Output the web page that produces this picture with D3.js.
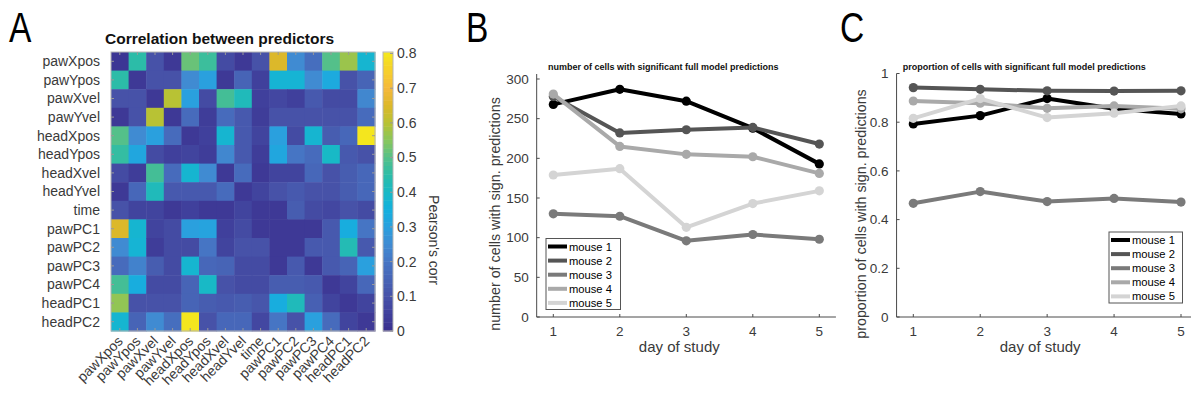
<!DOCTYPE html>
<html><head><meta charset="utf-8">
<script src="https://cdn.jsdelivr.net/npm/d3@7"></script>
<style>
body{margin:0;background:#fff}
svg{display:block}
text{font-family:"Liberation Sans",Arial,Helvetica,sans-serif}
</style>
</head><body>
<svg id="c" width="1191" height="398"></svg>
<script>
// ---------------- DATA ----------------
const predictors = ["pawXpos","pawYpos","pawXvel","pawYvel","headXpos","headYpos","headXvel","headYvel","time","pawPC1","pawPC2","pawPC3","pawPC4","headPC1","headPC2"];
const corrMatrix = [
  [0.02,0.45,0.10,0.03,0.52,0.47,0.08,0.03,0.10,0.65,0.25,0.18,0.50,0.57,0.38],
  [0.45,0.03,0.10,0.10,0.25,0.30,0.03,0.15,0.05,0.37,0.37,0.25,0.33,0.10,0.15],
  [0.10,0.10,0.03,0.60,0.30,0.08,0.48,0.42,0.05,0.07,0.05,0.12,0.08,0.08,0.24],
  [0.03,0.10,0.60,0.03,0.17,0.04,0.17,0.12,0.04,0.10,0.10,0.10,0.10,0.10,0.17],
  [0.50,0.25,0.30,0.17,0.03,0.05,0.38,0.12,0.06,0.30,0.08,0.38,0.13,0.16,0.80],
  [0.46,0.32,0.08,0.05,0.06,0.04,0.24,0.12,0.04,0.32,0.20,0.17,0.40,0.12,0.10],
  [0.08,0.04,0.48,0.17,0.38,0.25,0.03,0.17,0.03,0.06,0.06,0.16,0.10,0.13,0.16],
  [0.03,0.16,0.42,0.12,0.12,0.12,0.17,0.03,0.06,0.10,0.12,0.10,0.10,0.13,0.16],
  [0.10,0.06,0.06,0.03,0.05,0.03,0.03,0.06,0.03,0.03,0.13,0.08,0.07,0.10,0.08],
  [0.65,0.38,0.06,0.08,0.30,0.31,0.05,0.08,0.03,0.03,0.03,0.03,0.12,0.34,0.20],
  [0.25,0.37,0.04,0.08,0.08,0.20,0.06,0.10,0.10,0.03,0.03,0.12,0.12,0.43,0.12],
  [0.17,0.23,0.13,0.08,0.38,0.16,0.15,0.08,0.08,0.03,0.12,0.03,0.12,0.15,0.30],
  [0.48,0.34,0.08,0.08,0.15,0.40,0.10,0.08,0.08,0.13,0.13,0.12,0.03,0.06,0.16],
  [0.56,0.10,0.10,0.10,0.15,0.13,0.12,0.13,0.11,0.34,0.42,0.14,0.06,0.03,0.06],
  [0.38,0.15,0.25,0.18,0.80,0.10,0.16,0.16,0.07,0.20,0.10,0.30,0.17,0.06,0.03]
];
const colorbarTicks = [0,0.1,0.2,0.3,0.4,0.5,0.6,0.7,0.8];

const days = [1,2,3,4,5];
const mouseNames = ["mouse 1","mouse 2","mouse 3","mouse 4","mouse 5"];
const countMouse1 = [268,287,272,238,193];
const countMouse2 = [278,232,236,239,218];
const countMouse3 = [130,127,96,104,98];
const countMouse4 = [281,215,205,202,181];
const countMouse5 = [179,187,113,143,159];
const propMouse1 = [0.793,0.827,0.897,0.855,0.834];
const propMouse2 = [0.942,0.935,0.929,0.928,0.929];
const propMouse3 = [0.467,0.515,0.474,0.487,0.472];
const propMouse4 = [0.887,0.878,0.857,0.867,0.855];
const propMouse5 = [0.816,0.897,0.819,0.837,0.867];
const countTicks = [0,50,100,150,200,250,300];
const propTicks = [0,0.2,0.4,0.6,0.8,1];

// ---------------- STYLE ----------------
const parulaDomain = d3.range(0,0.8001,0.05);
const parulaColors = ["#3a2f8e","#40409c","#4752a8","#4764b6","#4675c4","#408bd2","#2aa0de","#14b0de","#18b9c6","#2cbca8","#54c08a","#88c65c","#b8c234","#dcb82a","#f5b83c","#f6cf2c","#f4e61e"];
const mouseColors = ["#000000","#555555","#7a7a7a","#a9a9a9","#d4d4d4"];
const axisColor = "#4a4a4a";
const labelColor = "#3a3a3a";

const svg = d3.select("#c");

function panelLetter(x, letter){
  svg.append("text").attr("transform",`translate(${x},42) scale(0.78,1)`)
    .attr("font-size",43).attr("fill","#000").text(letter);
}

// ---------------- PANEL A: heatmap ----------------
const hm = {x0:111, x1:375, y0:52, y1:331};
const xb = d3.scaleBand().domain(predictors).range([hm.x0, hm.x1]);
const yb = d3.scaleBand().domain(predictors).range([hm.y0, hm.y1]);
const color = d3.scaleLinear().domain(parulaDomain).range(parulaColors).clamp(true);

const cells = [];
corrMatrix.forEach((row,i)=>row.forEach((v,j)=>cells.push({r:predictors[i], c:predictors[j], v})));
svg.append("g").selectAll("rect").data(cells).join("rect")
  .attr("x", d=>xb(d.c)).attr("y", d=>yb(d.r))
  .attr("width", xb.bandwidth()+0.5).attr("height", yb.bandwidth()+0.5)
  .attr("fill", d=>color(d.v));

const hg = svg.append("g");
hg.append("rect").attr("x",hm.x0).attr("y",hm.y0).attr("width",hm.x1-hm.x0).attr("height",hm.y1-hm.y0)
  .attr("fill","none").attr("stroke","#b5b5b5").attr("stroke-width",1);
predictors.forEach(p=>{
  const cx = xb(p)+xb.bandwidth()/2, cy = yb(p)+yb.bandwidth()/2;
  hg.append("line").attr("x1",cx).attr("x2",cx).attr("y1",hm.y0).attr("y2",hm.y0+3).attr("stroke","#999");
  hg.append("line").attr("x1",cx).attr("x2",cx).attr("y1",hm.y1).attr("y2",hm.y1-3).attr("stroke","#999");
  hg.append("line").attr("y1",cy).attr("y2",cy).attr("x1",hm.x0).attr("x2",hm.x0+3).attr("stroke","#999");
  hg.append("line").attr("y1",cy).attr("y2",cy).attr("x1",hm.x1).attr("x2",hm.x1-3).attr("stroke","#999");
});
svg.append("g").selectAll("text").data(predictors).join("text")
  .attr("x", 100).attr("y", d=>yb(d)+yb.bandwidth()/2).attr("dy","0.35em")
  .attr("text-anchor","end").attr("font-size",14).attr("fill",labelColor).text(d=>d);
svg.append("g").selectAll("text").data(predictors).join("text")
  .attr("text-anchor","end").attr("font-size",14).attr("fill",labelColor)
  .attr("transform", d=>`translate(${xb(d)+xb.bandwidth()/2+4},${hm.y1+11}) rotate(-45)`)
  .text(d=>d);
svg.append("text").attr("x",105).attr("y",44).attr("font-size",15.5).attr("font-weight","bold")
  .attr("fill","#111").text("Correlation between predictors");
panelLetter(9,"A");

// colorbar
const cb = {x0:383, x1:393, y0:52, y1:331};
const cbScale = d3.scaleLinear().domain([0,0.8]).range([cb.y1, 53.5]);
const cbStep = 0.8035/64;
const cbLevels = d3.range(0,64).map(k=>k*cbStep);
svg.append("g").selectAll("rect").data(cbLevels).join("rect")
  .attr("x",cb.x0).attr("width",cb.x1-cb.x0)
  .attr("y", d=>Math.max(cb.y0, cbScale(d+cbStep)))
  .attr("height", d=>cbScale(d)-Math.max(cb.y0, cbScale(d+cbStep))+0.5)
  .attr("fill", d=>color(d+cbStep/2));
svg.append("rect").attr("x",cb.x0).attr("y",cb.y0).attr("width",cb.x1-cb.x0).attr("height",cb.y1-cb.y0)
  .attr("fill","none").attr("stroke","#b5b5b5");
const cbg = svg.append("g");
colorbarTicks.forEach(t=>{
  cbg.append("line").attr("x1",cb.x1-3).attr("x2",cb.x1).attr("y1",cbScale(t)).attr("y2",cbScale(t)).attr("stroke","#999");
  cbg.append("text").attr("x",397).attr("y",cbScale(t)).attr("dy","0.35em").attr("font-size",14)
    .attr("fill",labelColor).text(t===0?"0":d3.format(".1f")(t));
});
svg.append("text").attr("transform","translate(429,240) rotate(90)").attr("text-anchor","middle")
  .attr("font-size",14).attr("fill",labelColor).text("Pearson's corr");

// ---------------- line panels ----------------
function linePanel(opt){
  const g = svg.append("g");
  const x = d3.scaleLinear().domain([1,5]).range([opt.xr0, opt.xr1]);
  const y = d3.scaleLinear().domain(opt.yDomain).range(opt.yRange);
  const xl = x(0.75), xr = x(5.25), yb0 = y(0), yt = opt.yTop;
  g.append("line").attr("x1",xl).attr("x2",xr).attr("y1",yb0).attr("y2",yb0).attr("stroke",axisColor);
  g.append("line").attr("x1",xl).attr("x2",xl).attr("y1",yb0).attr("y2",yt).attr("stroke",axisColor);
  days.forEach(d=>{
    g.append("line").attr("x1",x(d)).attr("x2",x(d)).attr("y1",yb0).attr("y2",yb0-3).attr("stroke",axisColor);
    g.append("text").attr("x",x(d)).attr("y",yb0+18.5).attr("text-anchor","middle").attr("font-size",13.5)
      .attr("fill",labelColor).text(d);
  });
  opt.yTicks.forEach(t=>{
    g.append("line").attr("x1",xl).attr("x2",xl+3).attr("y1",y(t)).attr("y2",y(t)).attr("stroke",axisColor);
    g.append("text").attr("x",xl-8).attr("y",y(t)).attr("dy","0.35em").attr("text-anchor","end").attr("font-size",13.5)
      .attr("fill",labelColor).text(opt.fmt(t));
  });
  g.append("text").attr("x",x(3)-7).attr("y",352).attr("text-anchor","middle").attr("font-size",15)
    .attr("fill",labelColor).text("day of study");
  g.append("text").attr("transform",`translate(${opt.ylabX},214) rotate(-90)`).attr("text-anchor","middle")
    .attr("font-size",14.3).attr("fill",labelColor).text(opt.ylab);
  g.append("text").attr("x",x(3)-23).attr("y",69.5).attr("text-anchor","middle").attr("font-size",9)
    .attr("font-weight","bold").attr("fill","#111").text(opt.title);
  panelLetter(opt.letterX, opt.letter);
  const line = d3.line().x((d,i)=>x(days[i])).y(d=>y(d));
  opt.series.forEach((s,k)=>{
    g.append("path").attr("d",line(s)).attr("fill","none").attr("stroke",mouseColors[k])
      .attr("stroke-width",4).attr("stroke-linejoin","round");
    g.selectAll(null).data(s).join("circle").attr("cx",(d,i)=>x(days[i])).attr("cy",d=>y(d))
      .attr("r",4.6).attr("fill",mouseColors[k]);
  });
  const L = opt.legend;
  g.append("rect").attr("x",L.x).attr("y",L.y).attr("width",L.w).attr("height",L.h)
    .attr("fill","#fff").attr("stroke","#555").attr("stroke-width",1);
  mouseNames.forEach((m,k)=>{
    const yy = L.y + 8 + k*14.1;
    g.append("line").attr("x1",L.x+2).attr("x2",L.x+21).attr("y1",yy).attr("y2",yy)
      .attr("stroke",mouseColors[k]).attr("stroke-width",4);
    g.append("text").attr("x",L.x+23).attr("y",yy).attr("dy","0.36em").attr("font-size",11.2)
      .attr("fill","#000").text(m);
  });
}

linePanel({
  xr0:553.3, xr1:819.3, yDomain:[0,300], yRange:[317,79], yTop:74,
  yTicks:countTicks, fmt:d=>d,
  series:[countMouse1,countMouse2,countMouse3,countMouse4,countMouse5],
  ylab:"number of cells with sign. predictions", ylabX:500,
  title:"number of cells with significant full model predictions",
  letter:"B", letterX:466,
  legend:{x:546, y:238.5, w:74.5, h:71}
});
linePanel({
  xr0:913.3, xr1:1181, yDomain:[0,1], yRange:[317,73.5], yTop:73.5,
  yTicks:propTicks, fmt:d=>d===0||d===1?String(d):d3.format(".1f")(d),
  series:[propMouse1,propMouse2,propMouse3,propMouse4,propMouse5],
  ylab:"proportion of cells with sign. predictions", ylabX:866,
  title:"proportion of cells with significant full model predictions",
  letter:"C", letterX:840,
  legend:{x:1109, y:232, w:73.5, h:71}
});
</script>
</body></html>
